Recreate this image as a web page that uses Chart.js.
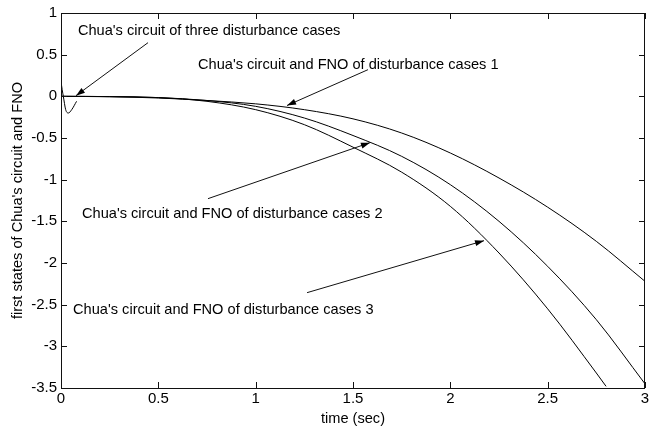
<!DOCTYPE html>
<html>
<head>
<meta charset="utf-8">
<script src="https://cdn.jsdelivr.net/npm/chart.js@4/dist/chart.umd.min.js"></script>
<style>
  html, body { margin:0; padding:0; background:#fff; }
  #c { display:block; }
</style>
</head>
<body>
<canvas id="c" width="659" height="427"></canvas>
<script>
/* ─── data ─────────────────────────────────────────────────── */
const time    = [0, 0.25, 0.5, 0.75, 1.0, 1.25, 1.5, 1.75, 2.0, 2.25, 2.5, 2.75, 3.0];
const case1   = [0, -0.005, -0.02, -0.05, -0.09, -0.16, -0.27, -0.44, -0.68, -0.98, -1.33, -1.74, -2.22];
const case2   = [0, -0.003, -0.015, -0.05, -0.12, -0.26, -0.47, -0.72, -1.06, -1.50, -2.04, -2.68, -3.45];
const time3   = [0, 0.25, 0.5, 0.75, 1.0, 1.25, 1.5, 1.75, 2.0, 2.25, 2.5, 2.75, 2.8];
const case3   = [0, -0.003, -0.015, -0.06, -0.16, -0.34, -0.61, -0.91, -1.32, -1.88, -2.55, -3.32, -3.48];
/* transient of the Chua circuit right at the start */
const timeT   = [0, 0.006, 0.012, 0.024, 0.038, 0.055, 0.08];
const transient = [0.18, 0.08, 0, -0.16, -0.2, -0.16, -0.06];

const xTicks = [0, 0.5, 1, 1.5, 2, 2.5, 3];
const yTicks = [1, 0.5, 0, -0.5, -1, -1.5, -2, -2.5, -3, -3.5];

/* annotation texts: [label, t, v] (left edge, middle) */
const notes = [
  ["Chua's circuit of three disturbance cases",      0.087,  0.79],
  ["Chua's circuit and FNO of disturbance cases 1",  0.704,  0.38],
  ["Chua's circuit and FNO of disturbance cases 2",  0.108, -1.41],
  ["Chua's circuit and FNO of disturbance cases 3",  0.062, -2.56]
];
/* arrows: [t0, v0, t1, v1] tail -> head */
const arrows = [
  [0.447,  0.644, 0.077,  0.008],
  [1.577,  0.32,  1.161, -0.11 ],
  [0.755, -1.228, 1.587, -0.556],
  [1.264, -2.356, 2.173, -1.732]
];

const FONT = '"Liberation Sans", Arial, sans-serif';
const pts = (xs, ys) => xs.map((t, i) => ({x: t, y: ys[i]}));
const line = d => ({data: d, borderColor: '#000', borderWidth: 1, pointRadius: 0,
                    cubicInterpolationMode: 'monotone', fill: false});

/* ─── frame, inner ticks, labels & arrows ──────────────────── */
const annotate = {
  id: 'annotate',
  afterDatasetsDraw(chart) {
    const {ctx, chartArea: a, scales: {x, y}} = chart;
    ctx.save();
    ctx.strokeStyle = '#111';
    ctx.lineWidth = 1;
    ctx.strokeRect(a.left + .5, a.top + .5, a.right - a.left - 1, a.bottom - a.top);
    ctx.beginPath();
    xTicks.forEach(t => {
      const px = Math.round(x.getPixelForValue(t)) + .5;
      ctx.moveTo(px, a.bottom); ctx.lineTo(px, a.bottom - 6);
      ctx.moveTo(px, a.top);    ctx.lineTo(px, a.top + 6);
    });
    yTicks.forEach(v => {
      const py = Math.round(y.getPixelForValue(v)) + .5;
      ctx.moveTo(a.left, py);  ctx.lineTo(a.left + 6, py);
      ctx.moveTo(a.right, py); ctx.lineTo(a.right - 6, py);
    });
    ctx.stroke();

    ctx.fillStyle = '#000';
    ctx.font = '14.6px ' + FONT;
    ctx.textBaseline = 'middle';
    ctx.textAlign = 'left';
    notes.forEach(([s, t, v]) => ctx.fillText(s, x.getPixelForValue(t), y.getPixelForValue(v)));

    arrows.forEach(([t0, v0, t1, v1]) => {
      const x0 = x.getPixelForValue(t0), y0 = y.getPixelForValue(v0);
      const x1 = x.getPixelForValue(t1), y1 = y.getPixelForValue(v1);
      const ang = Math.atan2(y1 - y0, x1 - x0), L = 9, W = 3;
      ctx.beginPath(); ctx.moveTo(x0, y0); ctx.lineTo(x1, y1); ctx.stroke();
      ctx.beginPath();
      ctx.moveTo(x1, y1);
      ctx.lineTo(x1 - L*Math.cos(ang) + W*Math.sin(ang), y1 - L*Math.sin(ang) - W*Math.cos(ang));
      ctx.lineTo(x1 - L*Math.cos(ang) - W*Math.sin(ang), y1 - L*Math.sin(ang) + W*Math.cos(ang));
      ctx.closePath(); ctx.fill();
    });

    /* axis titles */
    ctx.textAlign = 'center';
    ctx.fillText('time (sec)', (a.left + a.right) / 2, a.bottom + 31);
    ctx.translate(18, (a.top + a.bottom) / 2);
    ctx.rotate(-Math.PI / 2);
    ctx.fillText("first states of Chua's circuit and FNO", 0, 0);
    ctx.restore();
  }
};

const tickFont = {family: FONT, size: 15};
const fmt = v => String(+(+v).toFixed(2));

new Chart(document.getElementById('c'), {
  type: 'line',
  data: {
    datasets: [
      line(pts(time, case1)),
      line(pts(time, case2)),
      line(pts(time3, case3)),
      line(pts(timeT, transient))
    ]
  },
  options: {
    responsive: false,
    animation: false,
    devicePixelRatio: 1,
    layout: {padding: {left: 0, top: 13, right: 14, bottom: 0}},
    plugins: {legend: {display: false}, tooltip: {enabled: false}},
    scales: {
      x: {
        type: 'linear', min: 0, max: 3,
        ticks: {stepSize: 0.5, color: '#000', font: tickFont, padding: 2, maxRotation: 0, callback: fmt},
        grid: {display: false, drawTicks: false},
        border: {display: false},
        afterFit: s => { s.height = 39; }
      },
      y: {
        min: -3.5, max: 1,
        ticks: {stepSize: 0.5, color: '#000', font: tickFont, padding: 4, callback: fmt},
        grid: {display: false, drawTicks: false},
        border: {display: false},
        afterFit: s => { s.width = 61; }
      }
    }
  },
  plugins: [annotate]
});
</script>
</body>
</html>
